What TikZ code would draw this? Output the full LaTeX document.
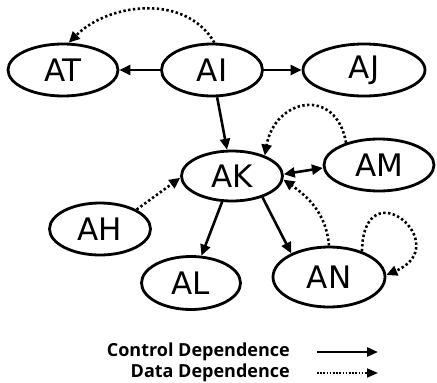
\documentclass[tikz,border=0pt]{standalone}
\usepackage{fontspec}
\setmainfont{DejaVu Sans}
\newfontfamily\legendfont{Open Sans}
\usetikzlibrary{shapes.geometric,arrows.meta}

\tikzset{
  tip/.style={-{Triangle[length=11pt,width=10pt]}},
  state/.style={ellipse, draw, line width=2.8pt, inner sep=0pt,
    font=\fontsize{31}{31}\selectfont},
  ctrl/.style={line width=2.6pt, tip},
  ctrlboth/.style={line width=2.6pt, {Triangle[length=11pt,width=10pt]}-{Triangle[length=11pt,width=10pt]}},
  datadep/.style={line width=2.6pt, dash pattern=on 2.4pt off 2.4pt, tip},
  legendtext/.style={anchor=east, inner sep=0pt,
    font=\legendfont\bfseries\fontsize{18}{18}\selectfont},
}

\begin{document}
\begin{tikzpicture}[x=1pt, y=-1pt]
\useasboundingbox (0,0) rectangle (437,383);

% states
\node[state, minimum width=110pt, minimum height=52pt] (AT) at (63,70) {AT};
\node[state, minimum width=101pt, minimum height=52pt] (AI) at (212,70) {AI};
\node[state, minimum width=122pt, minimum height=52pt] (AJ) at (364,70) {AJ};
\node[state, minimum width=101pt, minimum height=50pt] (AK) at (232,176) {AK};
\node[state, minimum width=110pt, minimum height=52pt] (AM) at (379,165) {AM};
\node[state, minimum width=101pt, minimum height=52pt] (AH) at (100,229) {AH};
\node[state, minimum width=99pt,  minimum height=53pt] (AL) at (191,283) {AL};
\node[state, minimum width=112pt, minimum height=60pt] (AN) at (329,277) {AN};

% control dependences
\draw[ctrl] (AI) -- (AT);
\draw[ctrl] (AI) -- (AJ);
\draw[ctrl] (AI) -- (AK);
\draw[ctrl] (AK) -- (AL);
\draw[ctrl] (AK.-35) -- (AN.148);
\draw[ctrlboth] (AK.2) -- (AM.183);

% data dependences
\draw[datadep] (AI.85) to[out=120, in=45] (AT.78);
\draw[datadep] (AM.146) to[out=100, in=80, looseness=1.8] (AK.32);
\draw[datadep] (AH.28) -- (AK.182);
\draw[datadep] (AN.90) to[out=95, in=-35] (AK.-4);
\draw[datadep] (AN.38) .. controls +(2,-85) and +(70,-30) .. (AN.2);

% legend
\node[legendtext] (lc) at (290,352) {Control Dependence};
\node[legendtext] (ld) at (290,373) {Data Dependence};
\coordinate (lcA) at (317,352);
\coordinate (lcB) at (378,352);
\coordinate (ldA) at (317,373);
\coordinate (ldB) at (378,373);
\draw[line width=2.6pt, -{Triangle[length=11pt,width=9pt]}] (lcA) -- (lcB);
\draw[line width=1.8pt, dash pattern=on 1.5pt off 1.7pt,
  -{Triangle[length=11pt,width=9pt]}] (ldA) -- (ldB);
\end{tikzpicture}
\end{document}
